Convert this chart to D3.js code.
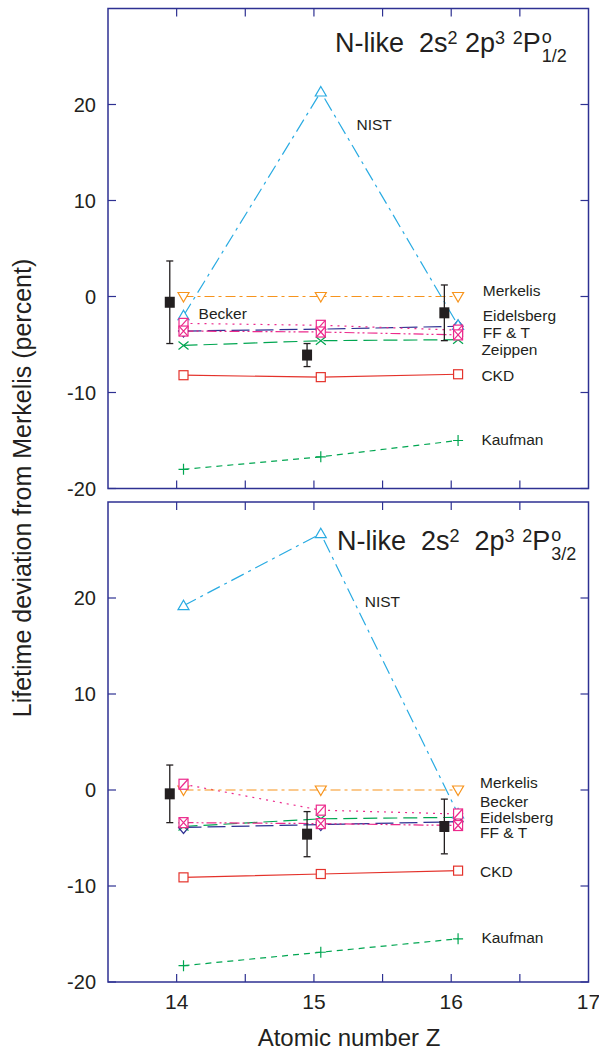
<!DOCTYPE html>
<html>
<head>
<meta charset="utf-8">
<script src="https://cdn.jsdelivr.net/npm/d3@7"></script>
<style>
  html, body { margin: 0; padding: 0; background: #fff; }
  svg text { font-family: "Liberation Sans", Arial, Helvetica, sans-serif; fill: #231f20; }
</style>
</head>
<body>
<svg id="chart" width="599" height="1050"></svg>
<script>
// ---------------- DATA ----------------
const atomicZ = [14, 15, 16];
const xTicksMajor = [14, 15, 16, 17];
const xTicksAll = [14, 14.5, 15, 15.5, 16, 16.5];
const yTicks = [-20, -10, 0, 10, 20];

// Panel 1: 2P°1/2
const nist12       = [-2.0, 21.3, -3.0];
const merkelis12   = [0, 0, 0];
const becker12     = [-2.8, -3.0, -3.5];
const fft12        = [-3.6, -3.7, -4.0];
const eidelsberg12 = [-3.6, -3.4, -3.1];
const zeippen12    = [-5.1, -4.6, -4.5];
const ckd12        = [-8.2, -8.4, -8.1];
const kaufman12    = [-18.0, -16.7, -15.0];
const expt12       = [-0.6, -6.1, -1.7];
const exptErr12    = [4.3, 1.2, 2.9];

// Panel 2: 2P°3/2
const nist32       = [19.2, 26.7, -2.5];
const merkelis32   = [0, 0, 0];
const becker32     = [0.6, -2.1, -2.5];
const fft32        = [-3.4, -3.5, -3.7];
const eidelsberg32 = [-3.9, -3.6, -3.3];
const zeippen32    = [-3.8, -3.0, -2.85];
const ckd32        = [-9.1, -8.75, -8.4];
const kaufman32    = [-18.3, -16.9, -15.5];
const expt32       = [-0.4, -4.6, -3.8];
const exptErr32    = [3.0, 2.35, 2.85];

// ---------------- STYLE ----------------
const frameColor = "#2e3192";
const styles = {
  "NIST":       {color: "#29abe2", dash: "14,5,3,5", marker: "triUp"},
  "Merkelis":   {color: "#f7941d", dash: "10,4,3,4", marker: "triDown"},
  "Becker":     {color: "#ec2a8c", dash: "2,5", marker: "sqSlash"},
  "FF & T":     {color: "#ec2a8c", dash: "10,3,2,3,2,3", marker: "sqX"},
  "Eidelsberg": {color: "#2e3192", dash: "18,6", marker: "diamond"},
  "Zeippen":    {color: "#00a651", dash: "14,6", marker: "cross"},
  "CKD":        {color: "#e4322b", dash: null, marker: "square"},
  "Kaufman":    {color: "#00a651", dash: "6,5", marker: "plus"}
};

const panels = [
  {
    top: 8.5, titleDy: 43.5, titleX: 335,
    values: {"NIST": nist12, "Merkelis": merkelis12, "Becker": becker12, "FF & T": fft12,
             "Eidelsberg": eidelsberg12, "Zeippen": zeippen12, "CKD": ckd12, "Kaufman": kaufman12},
    expt: expt12, err: exptErr12,
    labels: [
      {t: "NIST", z: 15.31, v: 17.3},
      {t: "Becker", z: 14.16, v: -2.35},
      {t: "Merkelis", z: 16.23, v: 0.05},
      {t: "Eidelsberg", z: 16.23, v: -2.55},
      {t: "FF & T", z: 16.23, v: -4.3},
      {t: "Zeippen", z: 16.22, v: -6.1},
      {t: "CKD", z: 16.22, v: -8.8},
      {t: "Kaufman", z: 16.22, v: -15.5}
    ],
    title: {pre: "N-like  2s", mid: " 2p", sub: "1/2"}
  },
  {
    top: 502, titleDy: 48, titleX: 337,
    values: {"NIST": nist32, "Merkelis": merkelis32, "Becker": becker32, "FF & T": fft32,
             "Eidelsberg": eidelsberg32, "Zeippen": zeippen32, "CKD": ckd32, "Kaufman": kaufman32},
    expt: expt32, err: exptErr32,
    labels: [
      {t: "NIST", z: 15.37, v: 19.1},
      {t: "Merkelis", z: 16.21, v: 0.2},
      {t: "Becker", z: 16.21, v: -1.8},
      {t: "Eidelsberg", z: 16.21, v: -3.45},
      {t: "FF & T", z: 16.21, v: -5.05},
      {t: "CKD", z: 16.21, v: -9.05},
      {t: "Kaufman", z: 16.22, v: -15.9}
    ],
    title: {pre: "N-like  2s", mid: "  2p", sub: "3/2"}
  }
];

// ---------------- DRAW ----------------
const svg = d3.select("#chart");
const left = 108, right = 588.5, ph = 480;
const x = d3.scaleLinear().domain([13.5, 17]).range([left, right]);
const theoryOffset = 0.05;

function marker(g, type, cx, cy, color) {
  const s = 5;
  const common = sel => sel.attr("fill", "none").attr("stroke", color).attr("stroke-width", 1.2);
  if (type === "triUp") {
    common(g.append("path").attr("d", `M${cx},${cy-5.5}L${cx+5.5},${cy+4}L${cx-5.5},${cy+4}Z`)).attr("fill", "#fff");
  } else if (type === "triDown") {
    common(g.append("path").attr("d", `M${cx},${cy+5.5}L${cx+5.5},${cy-4}L${cx-5.5},${cy-4}Z`)).attr("fill", "#fff");
  } else if (type === "square") {
    common(g.append("rect").attr("x", cx-4.5).attr("y", cy-4.5).attr("width", 9).attr("height", 9)).attr("fill", "#fff");
  } else if (type === "sqSlash") {
    common(g.append("rect").attr("x", cx-4.5).attr("y", cy-5).attr("width", 9).attr("height", 10)).attr("fill", "#fff");
    common(g.append("path").attr("d", `M${cx-4.5},${cy+5}L${cx+4.5},${cy-5}`));
  } else if (type === "sqX") {
    common(g.append("rect").attr("x", cx-4.5).attr("y", cy-5).attr("width", 9).attr("height", 10)).attr("fill", "#fff");
    common(g.append("path").attr("d", `M${cx-4.5},${cy-5}L${cx+4.5},${cy+5}M${cx-4.5},${cy+5}L${cx+4.5},${cy-5}`));
  } else if (type === "diamond") {
    common(g.append("path").attr("d", `M${cx},${cy-6}L${cx+5},${cy}L${cx},${cy+6}L${cx-5},${cy}Z`));
  } else if (type === "cross") {
    common(g.append("path").attr("d", `M${cx-s},${cy-s+1}L${cx+s},${cy+s-1}M${cx-s},${cy+s-1}L${cx+s},${cy-s+1}`));
  } else if (type === "plus") {
    common(g.append("path").attr("d", `M${cx-s},${cy}L${cx+s},${cy}M${cx},${cy-s-0.5}L${cx},${cy+s+0.5}`));
  }
}

panels.forEach((p, pi) => {
  const y = d3.scaleLinear().domain([-20, 30]).range([p.top + ph, p.top]);
  const g = svg.append("g");

  const order = ["Kaufman", "CKD", "Zeippen", "Eidelsberg", "FF & T", "Becker", "Merkelis", "NIST"];
  const line = d3.line().x(d => x(d[0])).y(d => y(d[1]));
  order.forEach(name => {
    const st = styles[name];
    const pts = atomicZ.map((z, i) => [z + theoryOffset, p.values[name][i]]);
    g.append("path").attr("d", line(pts)).attr("fill", "none")
      .attr("stroke", st.color).attr("stroke-width", 1.2)
      .attr("stroke-dasharray", st.dash);
  });
  const markerOrder = ["Kaufman", "CKD", "Zeippen", "Eidelsberg", "NIST", "Merkelis", "Becker", "FF & T"];
  markerOrder.forEach(name => {
    const st = styles[name];
    atomicZ.forEach((z, i) => marker(g, st.marker, x(z + theoryOffset), y(p.values[name][i]), st.color));
  });

  // experiment with error bars
  atomicZ.forEach((z, i) => {
    const cx = x(z - theoryOffset);
    const v = p.expt[i], e = p.err[i];
    g.append("line").attr("x1", cx).attr("x2", cx).attr("y1", y(v + e)).attr("y2", y(v - e))
      .attr("stroke", "#231f20").attr("stroke-width", 1.3);
    [v + e, v - e].forEach(vv => g.append("line").attr("x1", cx - 3.5).attr("x2", cx + 3.5)
      .attr("y1", y(vv)).attr("y2", y(vv)).attr("stroke", "#231f20").attr("stroke-width", 1.3));
    g.append("rect").attr("x", cx - 5).attr("y", y(v) - 5.5).attr("width", 10).attr("height", 11)
      .attr("fill", "#231f20");
  });

  // labels
  p.labels.forEach(l => {
    g.append("text").attr("x", x(l.z)).attr("y", y(l.v)).attr("font-size", 15.5).text(l.t);
  });

  // frame
  g.append("rect").attr("x", left).attr("y", p.top).attr("width", right - left).attr("height", ph)
    .attr("fill", "none").attr("stroke", frameColor).attr("stroke-width", 1.5);

  // ticks (inward)
  const tl = 8;
  xTicksAll.forEach(t => {
    g.append("line").attr("x1", x(t)).attr("x2", x(t)).attr("y1", p.top + ph).attr("y2", p.top + ph - tl)
      .attr("stroke", frameColor).attr("stroke-width", 1.2);
    g.append("line").attr("x1", x(t)).attr("x2", x(t)).attr("y1", p.top).attr("y2", p.top + tl)
      .attr("stroke", frameColor).attr("stroke-width", 1.2);
  });
  yTicks.forEach(t => {
    g.append("line").attr("x1", left).attr("x2", left + tl).attr("y1", y(t)).attr("y2", y(t))
      .attr("stroke", frameColor).attr("stroke-width", 1.2);
    g.append("line").attr("x1", right).attr("x2", right - tl).attr("y1", y(t)).attr("y2", y(t))
      .attr("stroke", frameColor).attr("stroke-width", 1.2);
    g.append("text").attr("x", 96).attr("y", y(t)).attr("dy", "0.36em")
      .attr("text-anchor", "end").attr("font-size", 20).text(t);
  });

  // title
  const tx = p.titleX, ty = p.top + p.titleDy;
  const title = g.append("text").attr("x", tx).attr("y", ty).attr("font-size", 27)
    .style("white-space", "pre");
  title.append("tspan").text(p.title.pre);
  title.append("tspan").attr("font-size", 18).attr("dy", -8).text("2");
  title.append("tspan").attr("dy", 8).text(p.title.mid);
  title.append("tspan").attr("font-size", 18).attr("dy", -8).text("3");
  title.append("tspan").attr("dy", 8).text(" ");
  title.append("tspan").attr("font-size", 18).attr("dy", -8).text("2");
  title.append("tspan").attr("dy", 8).text("P");
  const w = title.node().getComputedTextLength();
  g.append("text").attr("x", tx + w + 1).attr("y", ty - 9).attr("font-size", 18).text("o");
  g.append("text").attr("x", tx + w + 1).attr("y", ty + 10).attr("font-size", 18).text(p.title.sub);

  if (pi === 1) {
    xTicksMajor.forEach(t => {
      g.append("text").attr("x", x(t)).attr("y", 1009).attr("text-anchor", "middle")
        .attr("font-size", 21).text(t);
    });
  }
});

// axis titles
svg.append("text").attr("x", 349).attr("y", 1046).attr("text-anchor", "middle")
  .attr("font-size", 24).text("Atomic number Z");
svg.append("text").attr("transform", "translate(31,488) rotate(-90)").attr("text-anchor", "middle")
  .attr("font-size", 25).text("Lifetime deviation from Merkelis (percent)");
</script>
</body>
</html>
